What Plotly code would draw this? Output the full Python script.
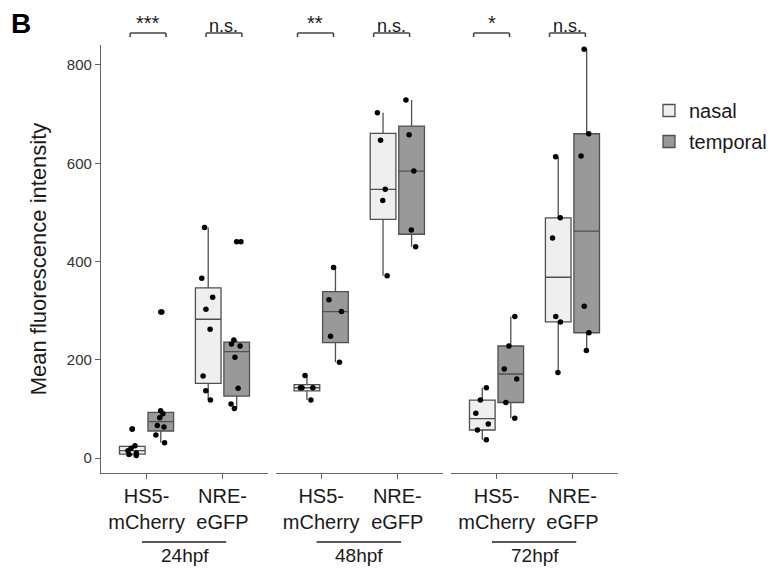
import plotly.graph_objects as go

# ---------------- data ----------------
categories = ["HS5-mCherry", "NRE-eGFP"]
tick_labels = ["HS5-<br>mCherry", "NRE-<br>eGFP"]
timepoints = ["24hpf", "48hpf", "72hpf"]
conditions = ["nasal", "temporal"]

hs5_nasal_24 = [5, 7, 10, 15, 20, 25, 59]
hs5_temporal_24 = [31, 47, 63, 66, 82, 90, 96, 297]
nre_nasal_24 = [118, 137, 167, 262, 303, 327, 366, 469]
nre_temporal_24 = [101, 110, 142, 205, 228, 232, 240, 440]

hs5_nasal_48 = [118, 143, 143, 143, 168]
hs5_temporal_48 = [195, 248, 298, 322, 388]
nre_nasal_48 = [371, 524, 547, 647, 703]
nre_temporal_48 = [430, 464, 584, 658, 729]

hs5_nasal_72 = [37, 57, 69, 91, 118, 143]
hs5_temporal_72 = [81, 113, 161, 181, 228, 288]
nre_nasal_72 = [174, 277, 288, 448, 489, 613]
nre_temporal_72 = [219, 255, 309, 615, 660, 832]

significance_hs5 = ["***", "**", "*"]
significance_nre = ["n.s.", "n.s.", "n.s."]

y_ticks = [0, 200, 400, 600, 800]
y_title = "Mean fluorescence intensity"
panel_letter = "B"

# ---------------- styling ----------------
FONT = "Liberation Sans, Arial, sans-serif"
fills = {"nasal": "#efefef", "temporal": "#999999"}
BOX_LINE = "#505050"
AXIS = "#666666"
TXT = "#1a1a1a"

data = {
    ("24hpf", "nasal"): (hs5_nasal_24, nre_nasal_24),
    ("24hpf", "temporal"): (hs5_temporal_24, nre_temporal_24),
    ("48hpf", "nasal"): (hs5_nasal_48, nre_nasal_48),
    ("48hpf", "temporal"): (hs5_temporal_48, nre_temporal_48),
    ("72hpf", "nasal"): (hs5_nasal_72, nre_nasal_72),
    ("72hpf", "temporal"): (hs5_temporal_72, nre_temporal_72),
}

# layout geometry (pixels)
W, H = 770, 571
ML, MR, MT, MB = 101, 152, 45, 98
PW = W - ML - MR
PH = H - MT - MB
panel_px = [(101, 268), (275.5, 443), (451, 618)]
domains = [[(a - ML) / PW, (b - ML) / PW] for a, b in panel_px]


def py(p):
    """pixel row -> paper y"""
    return (H - MB - p) / PH


def px(p):
    return (p - ML) / PW


fig = go.Figure()
axis_names = ["x", "x2", "x3"]

for i, tp in enumerate(timepoints):
    for cond in conditions:
        hs5, nre = data[(tp, cond)]
        xs = [categories[0]] * len(hs5) + [categories[1]] * len(nre)
        ys = list(hs5) + list(nre)
        # visible box with outliers drawn at the centre (like geom_boxplot)
        fig.add_trace(go.Box(
            x=xs, y=ys, name=cond, legendgroup=cond, offsetgroup=cond,
            showlegend=(i == 0), xaxis=axis_names[i], yaxis="y",
            fillcolor=fills[cond], line=dict(color=BOX_LINE, width=1.3),
            whiskerwidth=0, boxpoints="outliers", pointpos=0, jitter=0,
            marker=dict(color="black", size=5.5),
            quartilemethod="linear",
        ))
        # jittered raw points (like geom_jitter)
        fig.add_trace(go.Box(
            x=xs, y=ys, name=cond, legendgroup=cond, offsetgroup=cond,
            showlegend=False, xaxis=axis_names[i], yaxis="y",
            fillcolor="rgba(0,0,0,0)", line=dict(color="rgba(0,0,0,0)", width=0),
            whiskerwidth=0, boxpoints="all", pointpos=0, jitter=0.6,
            marker=dict(color="black", size=5.5),
            quartilemethod="linear", hoverinfo="skip",
        ))

layout_axes = {}
for i, name in enumerate(["xaxis", "xaxis2", "xaxis3"]):
    layout_axes[name] = dict(
        domain=domains[i], anchor="y", type="category",
        categoryorder="array", categoryarray=categories,
        range=[-0.6, 1.6], tickvals=categories, ticktext=tick_labels,
        showline=True, linecolor=AXIS, linewidth=1.2,
        ticks="outside", ticklen=5, tickcolor=AXIS, tickwidth=1.2,
        tickfont=dict(family=FONT, size=20, color=TXT),
        showgrid=False, zeroline=False, fixedrange=True,
    )

fig.update_layout(
    width=W, height=H,
    margin=dict(l=ML, r=MR, t=MT, b=MB, autoexpand=False),
    paper_bgcolor="white", plot_bgcolor="white",
    boxmode="group", boxgap=0.25, boxgroupgap=0.1,
    font=dict(family=FONT, color=TXT),
    yaxis=dict(
        range=[-30.5, 840.7], tickvals=y_ticks,
        showline=True, linecolor=AXIS, linewidth=1.2,
        ticks="outside", ticklen=5, tickcolor=AXIS, tickwidth=1.2,
        tickfont=dict(family=FONT, size=15, color="#333333"),
        title=dict(text=y_title, font=dict(family=FONT, size=22, color=TXT), standoff=14),
        showgrid=False, zeroline=False, anchor="x", fixedrange=True,
    ),
    legend=dict(
        x=px(649), y=py(91), xanchor="left", yanchor="top",
        font=dict(family=FONT, size=20, color=TXT),
        bgcolor="rgba(0,0,0,0)", tracegroupgap=2,
    ),
    showlegend=True,
    **layout_axes,
)

# significance brackets and labels
bracket_offset = [0.02, -0.075, -0.066]
half = 0.236
y_line = py(33)
y_leg = py(37)
shapes = []
annotations = []
for i, tp in enumerate(timepoints):
    xr = axis_names[i]
    for c, labels in enumerate([significance_hs5, significance_nre]):
        cx = c + bracket_offset[i]
        x0, x1 = cx - half, cx + half
        for seg in [(x0, y_line, x1, y_line), (x0, y_line, x0, y_leg), (x1, y_line, x1, y_leg)]:
            shapes.append(dict(type="line", xref=xr, yref="paper",
                               x0=seg[0], y0=seg[1], x1=seg[2], y1=seg[3],
                               line=dict(color="#444444", width=1.5)))
        is_star = "*" in labels[i]
        annotations.append(dict(
            text=labels[i], xref=xr, yref="paper", x=cx, y=y_line,
            xanchor="center", yanchor="bottom", showarrow=False,
            yshift=-3 if is_star else -5,
            font=dict(family=FONT, size=20 if is_star else 18, color=TXT)))
    # timepoint underline + label
    shapes.append(dict(type="line", xref=xr, yref="paper",
                       x0=-0.06, x1=1.05, y0=py(542), y1=py(542),
                       line=dict(color="#222222", width=1.5)))
    annotations.append(dict(
        text=tp, xref=xr, yref="paper", x=0.5, y=py(555),
        xanchor="center", yanchor="middle", showarrow=False,
        font=dict(family=FONT, size=19, color=TXT)))

annotations.append(dict(
    text="<b>%s</b>" % panel_letter, xref="paper", yref="paper",
    x=px(9), y=py(6), xanchor="left", yanchor="top", showarrow=False,
    font=dict(family=FONT, size=28, color="black")))

fig.update_layout(shapes=shapes, annotations=annotations)

fig.write_html("out.html", config={"displayModeBar": False},
               post_script="document.body.style.margin='0';")
